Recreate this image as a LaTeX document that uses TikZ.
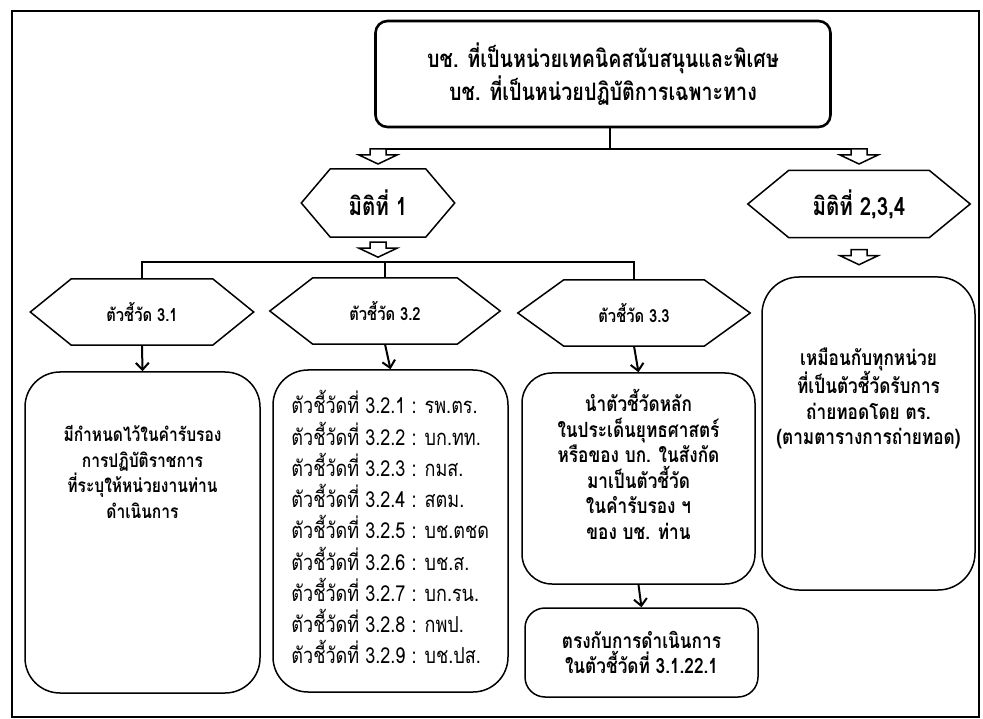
\documentclass[tikz,border=0pt]{standalone}
\usepackage{fontspec}
\setmainfont[Script=Thai,FakeStretch=0.82]{Loma}
\usepackage{tikz}
\usetikzlibrary{calc}
\usetikzlibrary{arrows.meta}

\tikzset{
  hexlabel/.style={inner sep=0pt,font=\fontsize{18}{24}\selectfont\bfseries},
  hexline/.style={line width=1.5pt},
  roundbox/.style={draw,line width=1.5pt,rounded corners=#1,inner sep=0pt},
  roundbox/.default=30,
  boxtext/.style={inner sep=0pt,align=center,font=\fontsize{21}{25.5}\selectfont\bfseries},
  bar/.style={line width=2.4pt},
  arr/.style={line width=2pt,-{Straight Barb[length=7pt,width=13pt,line width=2pt]}},
  hollowarrow/.pic={\draw[line width=1.5pt,fill=white] (-8,0) -- (-8,6) -- (-19,6) -- (0,15) -- (19,6) -- (8,6) -- (8,0) -- cycle;}
}

% hexagon: options, name, position, width, height, side, text
\newcommand{\hexnode}[7]{%
  \node[hexlabel,#1,minimum width=#4,minimum height=#5] (#2) at (#3) {#7};
  \draw[hexline] ($(#2.north west)+(#6,0)$) -- ($(#2.north east)+(-#6,0)$) -- (#2.east)
    -- ($(#2.south east)+(-#6,0)$) -- ($(#2.south west)+(#6,0)$) -- (#2.west) -- cycle;
}

\begin{document}
\begin{tikzpicture}[x=1pt,y=-1pt]
\useasboundingbox (0,0) rectangle (983,719);
% Outer frame
\draw[line width=1.5pt] (12,11) rectangle (979,717);

% Top box
\node[roundbox=12,line width=2.6pt,minimum width=455,minimum height=106,align=center,
  font=\fontsize{24}{33}\selectfont\bfseries] (top) at (603,74)
  {บช. ที่เป็นหน่วยเทคนิคสนับสนุนและพิเศษ\\บช. ที่เป็นหน่วยปฏิบัติการเฉพาะทาง};

% Dimensions
\hexnode{font=\fontsize{25}{30}\selectfont\bfseries}{dim1}{378,203}{153}{68}{29}{มิติที่ 1}
\hexnode{font=\fontsize{25}{30}\selectfont\bfseries}{dim2}{859,204}{222}{67}{41}{มิติที่ 2,3,4}

% Indicators
\hexnode{}{ind1}{142,312}{223}{66}{41}{ตัวชี้วัด 3.1}
\hexnode{}{ind2}{385,311}{230}{66}{43}{ตัวชี้วัด 3.2}
\hexnode{}{ind3}{634,313}{232}{66}{46}{ตัวชี้วัด 3.3}

% Boxes
\node[roundbox=35,minimum width=235,minimum height=321] (box1) at (142.5,532.5) {};
\node[roundbox=35,minimum width=235,minimum height=322] (box2) at (390.5,531) {};
\node[roundbox=30,minimum width=233,minimum height=211] (box3) at (638.5,478.5) {};
\node[roundbox=20,minimum width=233,minimum height=89,boxtext] (box4) at (641.5,652.5)
  {ตรงกับการดำเนินการ\\ในตัวชี้วัดที่ 3.1.22.1};
\node[roundbox=37,minimum width=213,minimum height=313] (box5) at (868.5,433.5) {};

% Box texts
\node[boxtext,anchor=north,font=\fontsize{19}{25.7}\selectfont\bfseries] (txt1)
  at ($(box1.north)+(0,54)$)
  {มีกำหนดไว้ในคำรับรอง\\การปฏิบัติราชการ\\ที่ระบุให้หน่วยงานท่าน\\ดำเนินการ};
\node[boxtext,align=left,anchor=north west,font=\fontsize{22}{31.25}\selectfont] (txt2)
  at ($(box2.north west)+(19,21)$)
  {ตัวชี้วัดที่ 3.2.1 : รพ.ตร.\\ตัวชี้วัดที่ 3.2.2 : บก.ทท.\\ตัวชี้วัดที่ 3.2.3 : กมส.\\
   ตัวชี้วัดที่ 3.2.4 : สตม.\\ตัวชี้วัดที่ 3.2.5 : บช.ตชด\\ตัวชี้วัดที่ 3.2.6 : บช.ส.\\
   ตัวชี้วัดที่ 3.2.7 : บก.รน.\\ตัวชี้วัดที่ 3.2.8 : กพป.\\ตัวชี้วัดที่ 3.2.9 : บช.ปส.};
\node[boxtext,anchor=north] (txt3) at ($(box3.north)+(0,17)$)
  {นำตัวชี้วัดหลัก\\ในประเด็นยุทธศาสตร์\\หรือของ บก. ในสังกัด\\มาเป็นตัวชี้วัด\\ในคำรับรอง ฯ\\ของ บช. ท่าน};
\node[boxtext,anchor=north] (txt5) at ($(box5.north)+(0,71)$)
  {เหมือนกับทุกหน่วย\\ที่เป็นตัวชี้วัดรับการ\\ถ่ายทอดโดย ตร.\\(ตามตารางการถ่ายทอด)};

% Connectors from the top box
\coordinate (j0) at (610,149);
\draw[bar] (top.south -| j0) -- (j0);
\draw[bar] (dim1.north |- j0) -- (dim2.north |- j0);
\pic at (dim1.north |- j0) {hollowarrow};
\pic at (dim2.north |- j0) {hollowarrow};
\pic at ($(dim1.south)+(0,5)$) {hollowarrow};
\pic at ($(dim2.south)+(0,12)$) {hollowarrow};

% Connectors to the indicators
\coordinate (j1) at (ind2.north |- 0,262);
\draw[bar] (ind1.north) |- (j1) -| (ind3.north);
\draw[bar] (j1) -- (ind2.north);

% Arrows to the boxes
\draw[arr] (ind1.south) -- (box1.north);
\draw[arr] (ind2.south) -- (box2.north);
\draw[arr] (ind3.south) -- (box3.north);
\draw[arr] (box3.south) -- (box4.north);
\end{tikzpicture}
\end{document}
